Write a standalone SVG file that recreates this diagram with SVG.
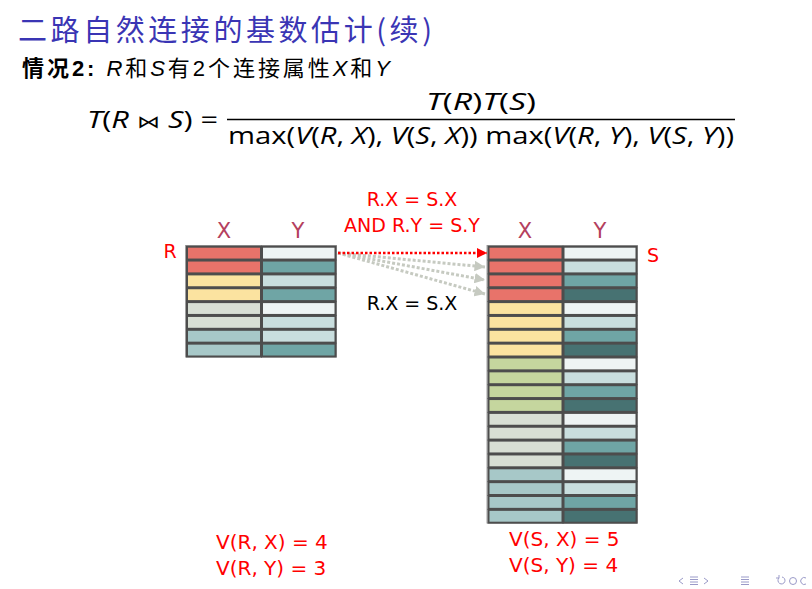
<svg xmlns="http://www.w3.org/2000/svg" width="812" height="589" viewBox="0 0 812 589">
<defs>
<style>
.cell{stroke:#4d4d4d;stroke-width:2}
.hdr{font-family:"DejaVu Sans","Open Sans",sans-serif;font-size:21px;fill:#b4405e;text-anchor:middle}
.red{font-family:"DejaVu Sans","Open Sans",sans-serif;font-size:19px;fill:#ff0000;text-anchor:middle}
.vr{font-family:"DejaVu Sans","Open Sans",sans-serif;font-size:20px;fill:#ff0000;text-anchor:start}
.blk{font-family:"DejaVu Sans","Open Sans",sans-serif;font-size:19px;fill:#000;text-anchor:middle}
.math{font-family:"Open Sans","DejaVu Sans",sans-serif;font-size:24px;fill:#000}
.it{font-style:italic}
.rX{fill:#e8736a}.yX{fill:#fbe3a0}.gX{fill:#c5d69e}.lX{fill:#d8dfd4}.bX{fill:#a7c8c8}
.y0{fill:#eef4f4}.y1{fill:#c9dede}.y2{fill:#6fa5a5}.y3{fill:#477272}
.nav{fill:none;stroke:#9a9ac8;stroke-width:1}
</style>
<marker id="ah-red" viewBox="0 0 10 10" refX="10" refY="5" markerWidth="4" markerHeight="4" orient="auto" markerUnits="strokeWidth"><path d="M0,0 L10,5 L0,10 z" fill="#ff0000"/></marker>
<marker id="ah-gray" viewBox="0 0 10 10" refX="10" refY="5" markerWidth="3.5" markerHeight="3.5" orient="auto" markerUnits="strokeWidth"><path d="M0,0 L10,5 L0,10 z" fill="#c6cac1"/></marker>
</defs>
<rect width="812" height="589" fill="#ffffff"/>

<g id="title">
<text x="18" y="41" font-family="'Noto Sans CJK SC','DejaVu Sans',sans-serif" font-size="29" fill="#3a35b4" textLength="414" lengthAdjust="spacing">二路自然连接的基数估计(续)</text>
</g>
<g id="subtitle">
<text x="22" y="76" font-family="'Liberation Sans','Noto Sans CJK SC',sans-serif" font-size="22" fill="#000" textLength="368" lengthAdjust="spacing"><tspan font-weight="bold">情况2:</tspan> <tspan font-style="italic">R</tspan>和<tspan font-style="italic">S</tspan>有2个连接属性<tspan font-style="italic">X</tspan>和<tspan font-style="italic">Y</tspan></text>
</g>

<g id="formula">
<text class="math" x="87" y="128" textLength="131" lengthAdjust="spacingAndGlyphs"><tspan class="it">T</tspan>(<tspan class="it">R</tspan> <tspan font-size="18">⋈</tspan> <tspan class="it">S</tspan>) =</text>
<text class="math" x="481" y="110" text-anchor="middle" textLength="110" lengthAdjust="spacingAndGlyphs"><tspan class="it">T</tspan>(<tspan class="it">R</tspan>)<tspan class="it">T</tspan>(<tspan class="it">S</tspan>)</text>
<line x1="227" y1="119.5" x2="735" y2="119.5" stroke="#000" stroke-width="1.3"/>
<text class="math" x="228" y="144" textLength="506" lengthAdjust="spacingAndGlyphs">max(<tspan class="it">V</tspan>(<tspan class="it">R</tspan>, <tspan class="it">X</tspan>), <tspan class="it">V</tspan>(<tspan class="it">S</tspan>, <tspan class="it">X</tspan>)) max(<tspan class="it">V</tspan>(<tspan class="it">R</tspan>, <tspan class="it">Y</tspan>), <tspan class="it">V</tspan>(<tspan class="it">S</tspan>, <tspan class="it">Y</tspan>))</text>
</g>

<g id="tableR">
<rect x="185.5" y="245.5" width="151" height="111.5" fill="none" stroke="#a0a0a0" stroke-width="1"/>
<rect class="cell rX" x="187" y="246.7" width="74" height="12.85"/><rect class="cell y0" x="262" y="246.7" width="73.5" height="12.85"/>
<rect class="cell rX" x="187" y="260.55" width="74" height="12.85"/><rect class="cell y2" x="262" y="260.55" width="73.5" height="12.85"/>
<rect class="cell yX" x="187" y="274.4" width="74" height="12.85"/><rect class="cell y1" x="262" y="274.4" width="73.5" height="12.85"/>
<rect class="cell yX" x="187" y="288.25" width="74" height="12.85"/><rect class="cell y2" x="262" y="288.25" width="73.5" height="12.85"/>
<rect class="cell lX" x="187" y="302.1" width="74" height="12.85"/><rect class="cell y0" x="262" y="302.1" width="73.5" height="12.85"/>
<rect class="cell lX" x="187" y="315.95" width="74" height="12.85"/><rect class="cell y1" x="262" y="315.95" width="73.5" height="12.85"/>
<rect class="cell bX" x="187" y="329.8" width="74" height="12.85"/><rect class="cell y1" x="262" y="329.8" width="73.5" height="12.85"/>
<rect class="cell bX" x="187" y="343.65" width="74" height="12.85"/><rect class="cell y2" x="262" y="343.65" width="73.5" height="12.85"/>
<text class="hdr" x="224" y="238">X</text>
<text class="hdr" x="298" y="238">Y</text>
<text class="red" x="170" y="258" font-size="20">R</text>
</g>

<g id="tableS">
<rect x="487" y="245.5" width="150.5" height="277.5" fill="none" stroke="#a0a0a0" stroke-width="1"/>
<g>
<rect class="cell rX" x="488.5" y="246.7" width="74" height="12.85"/><rect class="cell y0" x="563.5" y="246.7" width="73" height="12.85"/>
<rect class="cell rX" x="488.5" y="260.55" width="74" height="12.85"/><rect class="cell y1" x="563.5" y="260.55" width="73" height="12.85"/>
<rect class="cell rX" x="488.5" y="274.4" width="74" height="12.85"/><rect class="cell y2" x="563.5" y="274.4" width="73" height="12.85"/>
<rect class="cell rX" x="488.5" y="288.25" width="74" height="12.85"/><rect class="cell y3" x="563.5" y="288.25" width="73" height="12.85"/>
<rect class="cell yX" x="488.5" y="302.1" width="74" height="12.85"/><rect class="cell y0" x="563.5" y="302.1" width="73" height="12.85"/>
<rect class="cell yX" x="488.5" y="315.95" width="74" height="12.85"/><rect class="cell y1" x="563.5" y="315.95" width="73" height="12.85"/>
<rect class="cell yX" x="488.5" y="329.8" width="74" height="12.85"/><rect class="cell y2" x="563.5" y="329.8" width="73" height="12.85"/>
<rect class="cell yX" x="488.5" y="343.65" width="74" height="12.85"/><rect class="cell y3" x="563.5" y="343.65" width="73" height="12.85"/>
<rect class="cell gX" x="488.5" y="357.5" width="74" height="12.85"/><rect class="cell y0" x="563.5" y="357.5" width="73" height="12.85"/>
<rect class="cell gX" x="488.5" y="371.35" width="74" height="12.85"/><rect class="cell y1" x="563.5" y="371.35" width="73" height="12.85"/>
<rect class="cell gX" x="488.5" y="385.2" width="74" height="12.85"/><rect class="cell y2" x="563.5" y="385.2" width="73" height="12.85"/>
<rect class="cell gX" x="488.5" y="399.05" width="74" height="12.85"/><rect class="cell y3" x="563.5" y="399.05" width="73" height="12.85"/>
<rect class="cell lX" x="488.5" y="412.9" width="74" height="12.85"/><rect class="cell y0" x="563.5" y="412.9" width="73" height="12.85"/>
<rect class="cell lX" x="488.5" y="426.75" width="74" height="12.85"/><rect class="cell y1" x="563.5" y="426.75" width="73" height="12.85"/>
<rect class="cell lX" x="488.5" y="440.6" width="74" height="12.85"/><rect class="cell y2" x="563.5" y="440.6" width="73" height="12.85"/>
<rect class="cell lX" x="488.5" y="454.45" width="74" height="12.85"/><rect class="cell y3" x="563.5" y="454.45" width="73" height="12.85"/>
<rect class="cell bX" x="488.5" y="468.3" width="74" height="12.85"/><rect class="cell y0" x="563.5" y="468.3" width="73" height="12.85"/>
<rect class="cell bX" x="488.5" y="482.15" width="74" height="12.85"/><rect class="cell y1" x="563.5" y="482.15" width="73" height="12.85"/>
<rect class="cell bX" x="488.5" y="496" width="74" height="12.85"/><rect class="cell y2" x="563.5" y="496" width="73" height="12.85"/>
<rect class="cell bX" x="488.5" y="509.85" width="74" height="12.85"/><rect class="cell y3" x="563.5" y="509.85" width="73" height="12.85"/>
</g>
<text class="hdr" x="525" y="238">X</text>
<text class="hdr" x="600" y="238">Y</text>
<text class="red" x="653" y="262" font-size="20">S</text>
</g>

<g id="connectors">
<line x1="338" y1="253" x2="485" y2="267" stroke="#c6cac1" stroke-width="3" stroke-dasharray="3 2" marker-end="url(#ah-gray)"/>
<line x1="338" y1="253" x2="485" y2="280" stroke="#c6cac1" stroke-width="3" stroke-dasharray="3 2" marker-end="url(#ah-gray)"/>
<line x1="338" y1="253" x2="485" y2="294" stroke="#c6cac1" stroke-width="3" stroke-dasharray="3 2" marker-end="url(#ah-gray)"/>
<line x1="338" y1="253" x2="487" y2="253" stroke="#ff0000" stroke-width="2.5" stroke-dasharray="2.5 2" marker-end="url(#ah-red)"/>
</g>

<g id="labels">
<text class="red" x="412" y="206">R.X = S.X</text>
<text class="red" x="412" y="232">AND R.Y = S.Y</text>
<text class="blk" x="412" y="310">R.X = S.X</text>
<text class="vr" x="216" y="549">V(R, X) = 4</text>
<text class="vr" x="216" y="575">V(R, Y) = 3</text>
<text class="vr" x="509" y="546">V(S, X) = 5</text>
<text class="vr" x="509" y="572">V(S, Y) = 4</text>
</g>

<g id="nav">
<path class="nav" d="M683,578 L679,581 L683,584"/>
<path class="nav" d="M690,577 h8 M690,579.5 h8 M690,582 h8 M690,584.5 h8"/>
<path class="nav" d="M704,578 L708,581 L704,584"/>
<path class="nav" d="M741,577 h8 M741,579.5 h8 M741,582 h8 M741,584.5 h8"/>
<path class="nav" d="M779,578 a3.5,3.5 0 1 0 3,-1 M776,578 l3,0 l0,-3"/>
<circle class="nav" cx="793" cy="581" r="3.5"/>
<path class="nav" d="M806,578 a3.5,3.5 0 1 0 0,6"/>
</g>
</svg>
